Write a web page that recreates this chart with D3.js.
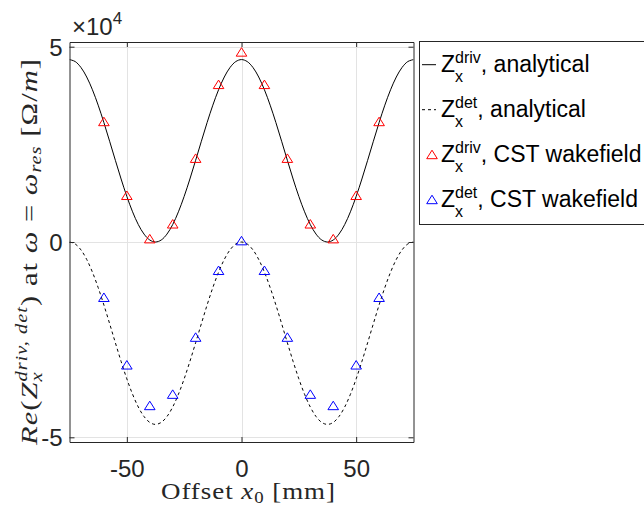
<!DOCTYPE html>
<html><head><meta charset="utf-8">
<script src="https://cdn.jsdelivr.net/npm/d3@7"></script>
<style>body{margin:0;background:#fff}svg{display:block}text{white-space:pre}</style>
</head><body>
<svg id="c" width="644" height="508"></svg>
<script>
// ---- data ----
const xTicks = [-50, 0, 50];
const yTicks = [-5e4, 0, 5e4];
const yTickLabels = ["-5", "0", "5"];
const xTickLabels = ["-50", "0", "50"];
// analytical curves sampled every 2.5 mm
const xAnalytical = [-75,-72.5,-70,-67.5,-65,-62.5,-60,-57.5,-55,-52.5,-50,-47.5,-45,-42.5,-40,-37.5,-35,-32.5,-30,-27.5,-25,-22.5,-20,-17.5,-15,-12.5,-10,-7.5,-5,-2.5,0,2.5,5,7.5,10,12.5,15,17.5,20,22.5,25,27.5,30,32.5,35,37.5,40,42.5,45,47.5,50,52.5,55,57.5,60,62.5,65,67.5,70,72.5,75];
const drivAnalytical = [46700,46190,44680,42240,38970,35030,30570,25790,20910,16130,11680,7730,4460,2020,510,0,510,2020,4460,7730,11680,16130,20910,25790,30570,35030,38970,42240,44680,46190,46700,46190,44680,42240,38970,35030,30570,25790,20910,16130,11680,7730,4460,2020,510,0,510,2020,4460,7730,11680,16130,20910,25790,30570,35030,38970,42240,44680,46190,46700];
const detAnalytical = [0,-510,-2020,-4460,-7730,-11670,-16130,-20910,-25790,-30570,-35030,-38970,-42240,-44680,-46190,-46700,-46190,-44680,-42240,-38970,-35030,-30570,-25790,-20910,-16130,-11670,-7730,-4460,-2020,-510,0,-510,-2020,-4460,-7730,-11670,-16130,-20910,-25790,-30570,-35030,-38970,-42240,-44680,-46190,-46700,-46190,-44680,-42240,-38970,-35030,-30570,-25790,-20910,-16130,-11670,-7730,-4460,-2020,-510,0];
// CST wakefield simulation points
const xCST = [-60,-50,-40,-30,-20,-10,0,10,20,30,40,50,60];
const drivCST = [30800,11900,800,4600,21400,40300,48600,40300,21400,4600,800,11900,30800];
const detCST = [-14200,-31500,-41900,-39000,-24400,-7300,300,-7300,-24400,-39000,-41900,-31500,-14200];

// ---- layout ----
const svg = d3.select("#c");
const L = 69.5, R = 413.5, T = 42, B = 442;
const x = d3.scaleLinear().domain([-75, 75]).range([L, R]);
const y = d3.scaleLinear().domain([-5.12e4, 5.12e4]).range([B, T]);
const axisCol = "#262626", gridCol = "#e3e3e3";

// grid
svg.append("g").selectAll("line.gx").data(xTicks).join("line")
  .attr("x1", d => Math.round(x(d)) + 0.5).attr("x2", d => Math.round(x(d)) + 0.5)
  .attr("y1", T).attr("y2", B).attr("stroke", gridCol).attr("stroke-width", 1);
svg.append("g").selectAll("line.gy").data(yTicks).join("line")
  .attr("y1", d => Math.round(y(d)) + 0.5).attr("y2", d => Math.round(y(d)) + 0.5)
  .attr("x1", L).attr("x2", R).attr("stroke", gridCol).attr("stroke-width", 1);

// clip
svg.append("clipPath").attr("id", "clip").append("rect")
  .attr("x", L).attr("y", T).attr("width", R - L).attr("height", B - T);
const plot = svg.append("g").attr("clip-path", "url(#clip)");

const line = d3.line().x((d, i) => x(xAnalytical[i])).y(d => y(d)).curve(d3.curveCatmullRom);
plot.append("path").attr("d", line(drivAnalytical)).attr("fill", "none")
  .attr("stroke", "#000").attr("stroke-width", 1);
plot.append("path").attr("d", line(detAnalytical)).attr("fill", "none")
  .attr("stroke", "#000").attr("stroke-width", 1).attr("stroke-dasharray", "3,3");

const tri = "M0,-4.5L5.3,4L-5.3,4Z";
plot.selectAll("path.rd").data(drivCST).join("path").attr("class", "rd")
  .attr("d", tri).attr("transform", (d, i) => `translate(${x(xCST[i])},${y(d)})`)
  .attr("fill", "none").attr("stroke", "#ff0000").attr("stroke-width", 1);
plot.selectAll("path.bd").data(detCST).join("path").attr("class", "bd")
  .attr("d", tri).attr("transform", (d, i) => `translate(${x(xCST[i])},${y(d)})`)
  .attr("fill", "none").attr("stroke", "#0000ff").attr("stroke-width", 1);

// axes (box with inner ticks)
const tickLen = 5;
const axB = svg.append("g").attr("transform", `translate(0,${B})`)
  .call(d3.axisBottom(x).tickValues(xTicks).tickSizeInner(-tickLen).tickSizeOuter(0).tickFormat((d, i) => xTickLabels[i]));
const axT = svg.append("g").attr("transform", `translate(0,${T})`)
  .call(d3.axisTop(x).tickValues(xTicks).tickSizeInner(-tickLen).tickSizeOuter(0).tickFormat(""));
const axL = svg.append("g").attr("transform", `translate(${L},0)`)
  .call(d3.axisLeft(y).tickValues(yTicks).tickSizeInner(-tickLen).tickSizeOuter(0).tickFormat((d, i) => yTickLabels[i]));
const axR = svg.append("g").attr("transform", `translate(${R},0)`)
  .call(d3.axisRight(y).tickValues(yTicks).tickSizeInner(-tickLen).tickSizeOuter(0).tickFormat(""));
[axB, axT, axL, axR].forEach(a => {
  a.select(".domain").attr("stroke", axisCol);
  a.selectAll(".tick line").attr("stroke", axisCol);
  a.selectAll("text").attr("fill", axisCol).attr("font-family", "Liberation Sans, Arial, sans-serif").attr("font-size", 24);
});
axB.selectAll("text").attr("dy", null).attr("y", 34.5);
axL.selectAll("text").attr("x", -7).attr("dy", "0.36em");

// exponent label
const ex = svg.append("text").attr("x", 72).attr("y", 35).attr("fill", axisCol)
  .attr("font-family", "Liberation Sans, Arial, sans-serif").attr("font-size", 24);
ex.append("tspan").text("×10");
ex.append("tspan").attr("font-size", 17).attr("dy", -11).text("4");

// rich text helper
function rich(parent, pieces, opts) {
  const g = parent.append("g");
  let cx = 0, lastStart = 0;
  for (const p of pieces) {
    const start = p.stack ? lastStart : cx;
    const t = g.append("text").attr("x", start).attr("y", p.dy || 0)
      .attr("font-family", p.fam || opts.fam).attr("font-size", p.size || opts.size)
      .attr("letter-spacing", opts.ls || 0)
      .attr("font-style", p.it ? "italic" : "normal").attr("fill", opts.fill).text(p.t);
    const w = t.node().getComputedTextLength();
    if (p.stack) cx = Math.max(cx, start + w); else { lastStart = start; cx = start + w; }
  }
  return { g, width: cx };
}

// x label
const serif = "Liberation Serif, Times New Roman, serif";
const xl = rich(svg, [
  { t: "Offset " }, { t: "x", it: true }, { t: "0", size: 16, dy: 4 }, { t: " [mm]" }
], { fam: serif, size: 23, fill: axisCol, ls: 0.8 });
const xk = 175 / xl.width;
xl.g.attr("transform", `translate(${(L + R) / 2 + 7 - xl.width * xk / 2},499) scale(${xk},1)`);

// y label
const ys = 24, yss = 16;
const yl = rich(svg, [
  { t: "Re", it: true }, { t: "(" }, { t: "Z", it: true },
  { t: "driv, det", it: true, size: yss, dy: -10 }, { t: "x", it: true, size: yss, dy: 5, stack: true },
  { t: ") at " }, { t: "ω", it: true }, { t: " = " }, { t: "ω", it: true },
  { t: "res", it: true, size: yss, dy: 4 }, { t: " [Ω/" }, { t: "m", it: true }, { t: "]" }
], { fam: serif, size: ys, fill: axisCol, ls: 0.8 });
const yk = 387 / yl.width;
yl.g.attr("transform", `translate(36.5,${251.5 + yl.width * yk / 2}) rotate(-90) scale(${yk},1)`);

// legend
const sans = "Liberation Sans, Arial, sans-serif";
svg.append("rect").attr("x", 419.5).attr("y", 41.5).attr("width", 240).attr("height", 183)
  .attr("fill", "#fff").attr("stroke", axisCol).attr("stroke-width", 1);
const legItems = [
  { sup: "driv", txt: ", analytical", kind: "solid" },
  { sup: "det", txt: ", analytical", kind: "dash" },
  { sup: "driv", txt: ", CST wakefield", kind: "red" },
  { sup: "det", txt: ", CST wakefield", kind: "blue" }
];
legItems.forEach((it, i) => {
  const base = 71.7 + i * 45;
  const my = base - 7;
  if (it.kind === "solid" || it.kind === "dash") {
    svg.append("line").attr("x1", 422).attr("x2", 436).attr("y1", my).attr("y2", my)
      .attr("stroke", "#000").attr("stroke-width", 1).attr("stroke-dasharray", it.kind === "dash" ? "3,3" : null);
  } else {
    svg.append("path").attr("d", tri).attr("transform", `translate(432,${my})`)
      .attr("fill", "none").attr("stroke", it.kind === "red" ? "#ff0000" : "#0000ff").attr("stroke-width", 1);
  }
  const r = rich(svg, [
    { t: "Z" }, { t: it.sup, size: 16, dy: -9 }, { t: "x", size: 16, dy: 10, stack: true }, { t: it.txt }
  ], { fam: sans, size: 23, fill: "#000" });
  r.g.attr("transform", `translate(441,${base})`);
});
</script>
</body></html>
